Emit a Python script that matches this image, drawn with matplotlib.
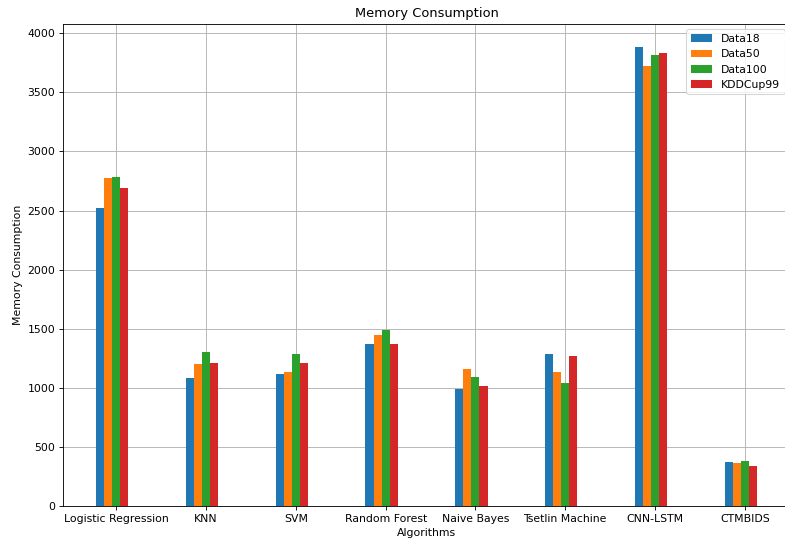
import numpy as np
import matplotlib
matplotlib.use("Agg")
import matplotlib.pyplot as plt

algorithms = ["Logistic Regression", "KNN", "SVM", "Random Forest", "Naive Bayes",
              "Tsetlin Machine", "CNN-LSTM", "CTMBIDS"]
data18 = [2525, 1080, 1115, 1372, 990, 1282, 3884, 374]
data50 = [2772, 1200, 1133, 1445, 1155, 1133, 3720, 366]
data100 = [2780, 1300, 1285, 1492, 1088, 1037, 3820, 380]
kddcup99 = [2688, 1214, 1207, 1367, 1015, 1268, 3836, 336]
series_names = ["Data18", "Data50", "Data100", "KDDCup99"]

DPI = 78
fig = plt.figure(figsize=(785/DPI, 541/DPI), dpi=DPI)
ax = fig.add_axes([63/785, 1-506/541, (790-63)/785, (506-24)/541])

x = np.arange(len(algorithms))
w = 0.09
colors = ["#1f77b4", "#ff7f0e", "#2ca02c", "#d62728"]
for i, (vals, name) in enumerate(zip([data18, data50, data100, kddcup99], series_names)):
    ax.bar(x + (i - 2) * w, vals, w, label=name, color=colors[i])

ax.set_xticks(x)
ax.set_xticklabels(algorithms)
ax.set_title("Memory Consumption")
ax.set_xlabel("Algorithms")
ax.set_ylabel("Memory Consumption")
ax.grid(True)
ax.set_axisbelow(True)
ax.legend(loc="upper right")

fig.savefig("out.png", dpi=DPI)
